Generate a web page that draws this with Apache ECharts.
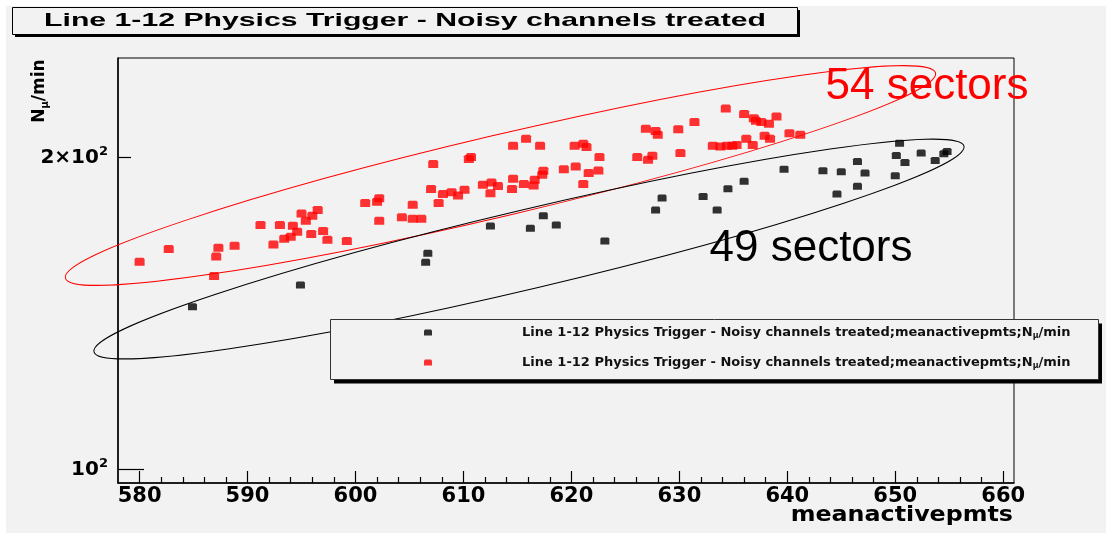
<!DOCTYPE html>
<html>
<head>
<meta charset="utf-8">
<script src="https://cdn.jsdelivr.net/npm/echarts@6/dist/echarts.min.js"></script>
<style>
  html, body { margin: 0; padding: 0; background: #fff; }
  #chart {
    width: 1112px; height: 533px;
    background: linear-gradient(#f2f2f2, #f2f2f2) 6px 6px / 1100px 527px no-repeat #fff;
  }
</style>
</head>
<body>
<div id="chart"></div>
<script>
// meanactivepmts vs N_mu/min, one point per run
const blackX = [584.9, 594.9, 606.7, 606.5, 612.5, 616.2, 617.4, 618.6, 623.1, 627.8,
                628.4, 632.2, 633.5, 634.5, 636.0, 639.7, 643.3, 645.0, 646.5, 647.2,
                644.6, 646.5, 650.0, 650.1, 650.4, 650.9, 652.4, 653.7, 654.5, 654.8];
const blackY = [143.6, 150.7, 161.7, 158.5, 171.8, 170.9, 175.7, 172.2, 166.2, 178.0,
                182.8, 183.4, 178.0, 186.6, 189.7, 194.9, 194.2, 193.8, 198.2, 193.2,
                184.4, 187.6, 192.1, 200.9, 206.5, 197.8, 202.0, 198.7, 201.7, 202.7];

const redX = [580.0, 582.7, 587.3, 587.1, 586.9, 588.8, 591.2, 593.0, 592.4, 593.4,
              594.2, 594.0, 594.6, 595.0, 595.4, 596.0, 596.5, 595.9, 597.0, 597.4,
              599.2, 600.9, 602.0, 602.2, 602.2, 604.3, 605.3, 605.3, 606.1, 607.2,
              607.0, 607.7, 608.1, 608.9, 609.5, 610.1, 610.5, 610.7, 611.8, 612.6,
              612.5, 613.2, 614.6, 615.8, 617.1, 614.6, 614.5, 615.6, 616.5, 616.6,
              617.4, 617.3, 619.3, 620.4, 621.1, 621.6, 622.5, 622.6, 620.3, 621.1,
              621.4, 626.1, 627.1, 627.5, 626.9, 627.8, 628.0, 629.9, 631.4, 630.1,
              634.3, 636.0, 636.9, 637.1, 637.6, 638.3, 639.0, 633.1, 633.8, 634.4,
              634.9, 635.3, 636.2, 636.8, 637.9, 638.4, 640.2, 641.2];
const redY = [158.7, 163.2, 163.7, 160.5, 153.7, 164.4, 172.2, 172.2, 164.9, 167.0,
              171.9, 167.7, 169.6, 176.6, 173.8, 175.7, 178.0, 168.8, 169.9, 166.6,
              166.2, 180.8, 181.3, 182.7, 173.8, 175.2, 180.1, 174.6, 174.6, 197.1,
              186.5, 180.8, 184.4, 185.2, 183.8, 186.2, 199.4, 200.2, 188.3, 189.2,
              184.8, 187.8, 205.3, 208.5, 205.3, 190.8, 186.5, 188.6, 188.0, 190.4,
              194.2, 192.5, 194.9, 196.1, 188.6, 193.2, 194.3, 200.2, 205.3, 206.2,
              204.7, 200.2, 199.0, 200.8, 213.2, 212.2, 210.4, 213.0, 216.4, 202.0,
              223.0, 220.3, 218.3, 217.0, 216.4, 215.6, 219.1, 205.3, 205.0, 205.3,
              205.3, 205.7, 208.5, 205.7, 209.9, 208.5, 211.1, 210.4];

// axis ticks and labels
const xMajorTicks = [580, 590, 600, 610, 620, 630, 640, 650, 660];
const xMinorTicks = [582, 584, 586, 588, 592, 594, 596, 598, 602, 604, 606, 608,
                     612, 614, 616, 618, 622, 624, 626, 628, 632, 634, 636, 638,
                     642, 644, 646, 648, 652, 654, 656, 658];
const yTickValues = [100, 200];
const yTickBase = ['10', '2\u00d710'];
const yTickExp = ['2', '2'];

// texts
const titleText = 'Line 1-12 Physics Trigger - Noisy channels treated';
const legendHead = 'Line 1-12 Physics Trigger - Noisy channels treated;meanactivepmts;N';
const legendSub = '\u03bc';
const legendTail = '/min';
const seriesNames = [legendHead + legendSub + legendTail, legendHead + legendSub + legendTail + ' '];
const xTitle = 'meanactivepmts';
const redNote = '54 sectors';
const blackNote = '49 sectors';

const pts = (xs, ys) => xs.map((x, i) => [x, ys[i]]);
const markerPath = 'path://M1,0 L7,0 L8,1 L8,6 L0,6 L0,1 Z';
const boldFont = 'DejaVu Sans';

const chart = echarts.init(document.getElementById('chart'), null, { renderer: 'canvas' });

chart.setOption({
  animation: false,
  backgroundColor: 'transparent',
  grid: {
    left: 118, right: 98, top: 58, bottom: 50,
    show: true, borderColor: '#000', borderWidth: 1, backgroundColor: 'transparent',
    outerBoundsMode: 'none'
  },
  xAxis: [
    {
      type: 'value', min: 578, max: 661, position: 'bottom',
      axisLine: { show: true, lineStyle: { color: '#000', width: 1.5 } },
      splitLine: { show: false },
      axisTick: { show: true, inside: true, length: 12, customValues: xMajorTicks,
                  lineStyle: { color: '#000', width: 1.2 } },
      axisLabel: { customValues: xMajorTicks, margin: 3, color: '#000',
                   fontFamily: boldFont, fontWeight: 'bold', fontSize: 21,
                   formatter: v => String(v) }
    },
    {
      type: 'value', min: 578, max: 661, position: 'bottom',
      axisLine: { show: false }, splitLine: { show: false },
      axisLabel: { show: false },
      axisTick: { show: true, inside: true, length: 6, customValues: xMinorTicks,
                  lineStyle: { color: '#000', width: 1.2 } }
    }
  ],
  yAxis: [
    {
      type: 'log', logBase: 10, min: 97.06, max: 249.5, position: 'left',
      axisLine: { show: true, lineStyle: { color: '#000', width: 1.5 } },
      splitLine: { show: false },
      axisTick: { show: true, inside: true, length: 13, customValues: [yTickValues[1]],
                  lineStyle: { color: '#000', width: 1.2 } },
      axisLabel: {
        customValues: yTickValues, margin: 10,
        formatter: v => {
          const i = yTickValues.indexOf(Math.round(v));
          return '{n|' + yTickBase[i] + '}{s|' + yTickExp[i] + '}';
        },
        rich: {
          n: { fontFamily: boldFont, fontWeight: 'bold', fontSize: 20, color: '#000', lineHeight: 24 },
          s: { fontFamily: boldFont, fontWeight: 'bold', fontSize: 13, color: '#000',
               lineHeight: 24, verticalAlign: 'top' }
        }
      }
    },
    {
      type: 'log', logBase: 10, min: 97.06, max: 249.5, position: 'left',
      axisLine: { show: false }, splitLine: { show: false },
      axisLabel: { show: false },
      axisTick: { show: true, inside: true, length: 26, customValues: [yTickValues[0]],
                  lineStyle: { color: '#000', width: 1.2 } }
    }
  ],
  legend: {
    orient: 'vertical', left: 330, top: 319, z: 8,
    padding: [7, 28, 11, 94],
    itemGap: 16, itemWidth: 8, itemHeight: 6,
    backgroundColor: 'transparent', borderWidth: 0,
    data: seriesNames,
    formatter: () => '{g|}{t|' + legendHead + '}{s|' + legendSub + '}{t|' + legendTail + '}',
    textStyle: {
      rich: {
        g: { width: 85 },
        t: { fontFamily: boldFont, fontWeight: 'bold', fontSize: 13, color: '#111', lineHeight: 15 },
        s: { fontFamily: boldFont, fontWeight: 'bold', fontSize: 8, color: '#111',
             lineHeight: 15, verticalAlign: 'bottom' }
      }
    }
  },
  series: [
    {
      name: seriesNames[0], type: 'scatter', xAxisIndex: 0, yAxisIndex: 0,
      symbol: markerPath, symbolSize: [9, 7],
      itemStyle: { color: '#000' },
      data: pts(blackX, blackY)
    },
    {
      name: seriesNames[1], type: 'scatter', xAxisIndex: 0, yAxisIndex: 0,
      symbol: markerPath, symbolSize: [10, 8],
      itemStyle: { color: '#ff0000' },
      data: pts(redX, redY)
    }
  ],
  graphic: [
    // title box with its drop shadow
    {
      type: 'rect', x: 15, y: 10, shape: { width: 785, height: 27 },
      style: { fill: '#000' }, z: 4
    },
    {
      type: 'rect', x: 12.5, y: 7.5, shape: { width: 785, height: 27 },
      style: { fill: '#f2f2f2', stroke: '#000', lineWidth: 1 }, z: 5
    },
    {
      type: 'text', x: 405, y: 21, scaleX: 1.59,
      style: { text: titleText, fill: '#000', font: 'bold 19px "Liberation Sans", Arial',
               align: 'center', verticalAlign: 'middle' },
      z: 6
    },
    // legend box with its drop shadow
    {
      type: 'rect', x: 334, y: 323.5, shape: { width: 768, height: 60 },
      style: { fill: '#000' }, z: 5
    },
    {
      type: 'rect', x: 330.5, y: 319.5, shape: { width: 768, height: 60 },
      style: { fill: '#f2f2f2', stroke: '#333', lineWidth: 1 }, z: 6
    },
    // axis titles
    {
      type: 'text', x: 40, y: 91, rotation: Math.PI / 2,
      style: {
        text: '{n|N}{s|\u03bc}{n|/min}', align: 'center', verticalAlign: 'middle',
        rich: {
          n: { fontFamily: boldFont, fontWeight: 'bold', fontSize: 17, fill: '#000', lineHeight: 20 },
          s: { fontFamily: boldFont, fontWeight: 'bold', fontSize: 10, fill: '#000',
               lineHeight: 20, verticalAlign: 'bottom' }
        }
      },
      z: 6
    },
    {
      type: 'text', x: 1013, y: 515, scaleX: 1.08,
      style: { text: xTitle, fill: '#000', font: 'bold 22px "DejaVu Sans"',
               align: 'right', verticalAlign: 'middle' },
      z: 6
    },
    // sector groupings
    {
      type: 'ellipse', x: 500.5, y: 175.5, rotation: 0.2314,
      shape: { cx: 0, cy: 0, rx: 447, ry: 40.5 },
      style: { fill: 'none', stroke: '#ff0000', lineWidth: 1 }, z: 4
    },
    {
      type: 'ellipse', x: 529, y: 249, rotation: 0.2322,
      shape: { cx: 0, cy: 0, rx: 447, ry: 39.5 },
      style: { fill: 'none', stroke: '#000', lineWidth: 1 }, z: 4
    },
    {
      type: 'text', x: 927, y: 87,
      style: { text: redNote, fill: '#ff0000', font: '44px "Liberation Sans", Arial',
               align: 'center', verticalAlign: 'middle' }, z: 6
    },
    {
      type: 'text', x: 811, y: 249,
      style: { text: blackNote, fill: '#000', font: '44px "Liberation Sans", Arial',
               align: 'center', verticalAlign: 'middle' }, z: 6
    }
  ]
});
</script>
</body>
</html>
